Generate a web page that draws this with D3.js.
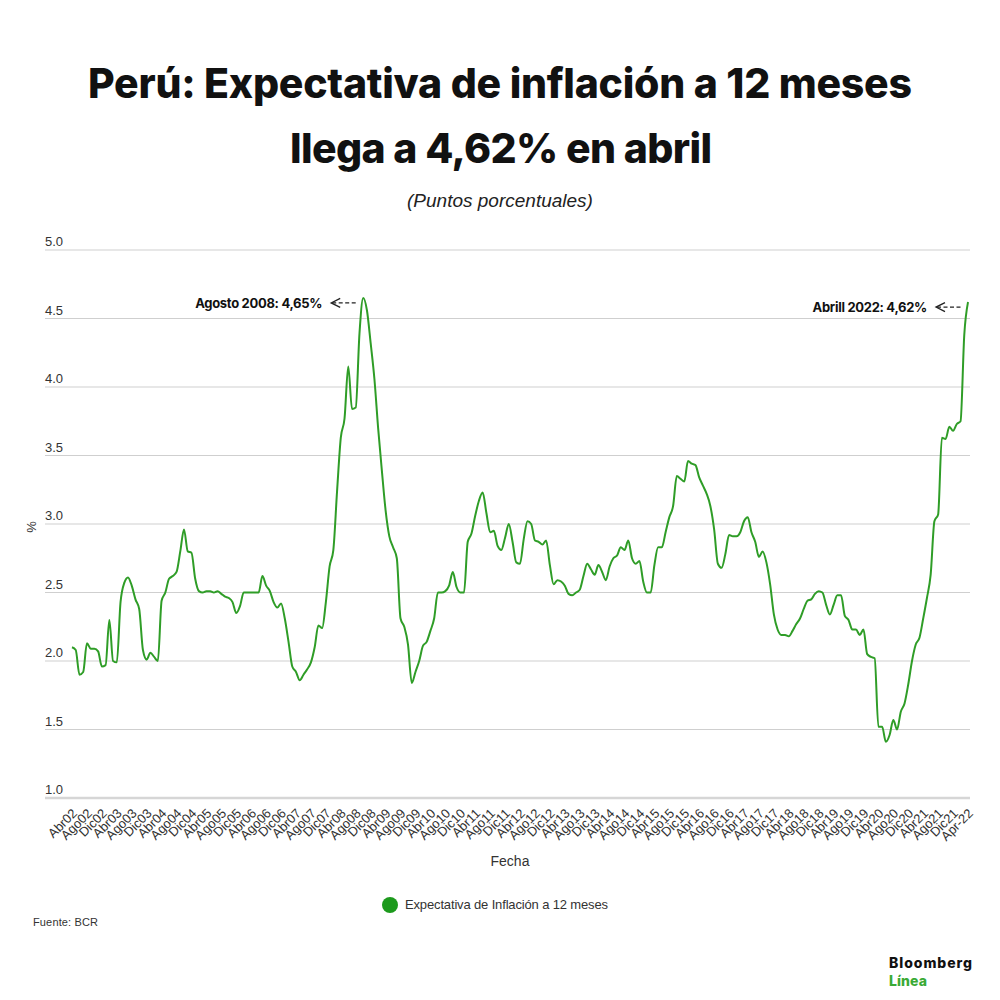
<!DOCTYPE html>
<html>
<head>
<meta charset="utf-8">
<script src="https://cdn.jsdelivr.net/npm/d3@7"></script>
<style>
  body { margin: 0; background: #fff; }
</style>
</head>
<body>
<div id="chart"></div>
<script>
// monthly expectation, Apr 2002 .. Apr 2022
var values = [
  2.10, 2.08, 1.90, 1.92, 2.13, 2.09, 2.09, 2.07, 1.96, 1.97,
  2.30, 2.00, 1.99, 2.43, 2.57, 2.61, 2.55, 2.45, 2.38, 2.08,
  2.01, 2.06, 2.03, 2.00, 2.44, 2.50, 2.60, 2.62, 2.65, 2.80,
  2.96, 2.80, 2.79, 2.60, 2.51, 2.50, 2.51, 2.51, 2.50, 2.51,
  2.49, 2.47, 2.46, 2.43, 2.35, 2.40, 2.50, 2.50, 2.50, 2.50,
  2.50, 2.62, 2.55, 2.51, 2.43, 2.39, 2.42, 2.31, 2.14, 1.96,
  1.92, 1.86, 1.90, 1.94, 1.99, 2.10, 2.26, 2.24, 2.43, 2.69,
  2.81, 3.24, 3.63, 3.77, 4.15, 3.84, 3.85, 4.39, 4.65, 4.56,
  4.32, 4.06, 3.70, 3.39, 3.10, 2.91, 2.83, 2.75, 2.31, 2.25,
  2.12, 1.84, 1.92, 2.00, 2.11, 2.14, 2.22, 2.31, 2.50, 2.50,
  2.51, 2.55, 2.65, 2.54, 2.50, 2.50, 2.87, 2.93, 3.06, 3.17,
  3.23, 3.08, 2.94, 2.95, 2.84, 2.81, 2.90, 3.00, 2.87, 2.72,
  2.71, 2.89, 3.02, 3.00, 2.88, 2.87, 2.85, 2.88, 2.70, 2.56,
  2.59, 2.58, 2.55, 2.49, 2.48, 2.50, 2.52, 2.62, 2.71, 2.67,
  2.63, 2.70, 2.65, 2.59, 2.69, 2.75, 2.77, 2.83, 2.81, 2.88,
  2.75, 2.71, 2.73, 2.58, 2.50, 2.50, 2.70, 2.83, 2.83, 2.94,
  3.05, 3.13, 3.35, 3.33, 3.31, 3.46, 3.44, 3.43, 3.34, 3.28,
  3.22, 3.13, 2.96, 2.71, 2.68, 2.78, 2.92, 2.91, 2.91, 2.94,
  3.02, 3.05, 2.94, 2.87, 2.76, 2.80, 2.72, 2.56, 2.34, 2.23,
  2.19, 2.19, 2.18, 2.22, 2.27, 2.31, 2.38, 2.44, 2.45, 2.49,
  2.51, 2.50, 2.41, 2.34, 2.41, 2.48, 2.48, 2.33, 2.30, 2.23,
  2.23, 2.19, 2.23, 2.05, 2.03, 2.02, 1.52, 1.52, 1.41, 1.46,
  1.57, 1.50, 1.63, 1.69, 1.83, 2.00, 2.12, 2.17, 2.31, 2.46,
  2.63, 3.02, 3.07, 3.63, 3.62, 3.71, 3.68, 3.73, 3.75, 4.38, 4.62
];

// x tick labels: every 4 months
var tickMonths = ['Abr', 'Ago', 'Dic'];
var tickYears = ['02', '03', '04', '05', '06', '07', '08', '09', '10', '11',
  '12', '13', '14', '15', '16', '17', '18', '19', '20', '21'];
var lastTick = 'Apr-22';
var tickLabels = [];
tickYears.forEach(function(y) {
  tickMonths.forEach(function(m) { tickLabels.push(m + y); });
});
tickLabels.push(lastTick);

var yTicks = [1.0, 1.5, 2.0, 2.5, 3.0, 3.5, 4.0, 4.5, 5.0];

var notes = [
  { text: 'Agosto 2008: 4,65%', from: 0, to: 120 },
  { text: 'Abrill 2022: 4,62%', from: 200, to: 241 }
];

var lineColor = '#2f9d27';
var sans = '"Liberation Sans", Arial, sans-serif';
var heavy = 'Inter, "Liberation Sans", sans-serif';
var chart_width = 1000;
var chart_height = 1000;

var svg = d3
  .select('#chart')
  .append('svg')
  .attr('width', chart_width)
  .attr('height', chart_height)
  .style('font-family', sans);

// squeeze / spread letters so a line of text fills a given width
function fitText(sel, target) {
  var n = sel.text().length;
  var w = sel.node().getComputedTextLength();
  sel.style('letter-spacing', ((target - w) / (n - 1)) + 'px');
}

// Title
var t1 = svg.append('text')
  .attr('x', 88).attr('y', 98)
  .style('font-family', heavy).style('font-weight', 800)
  .attr('font-size', 41).attr('fill', '#111')
  .text('Perú: Expectativa de inflación a 12 meses');
fitText(t1, 824);
var t2 = svg.append('text')
  .attr('x', 290).attr('y', 163)
  .style('font-family', heavy).style('font-weight', 800)
  .attr('font-size', 41).attr('fill', '#111')
  .text('llega a 4,62% en abril');
fitText(t2, 422);
svg.append('text')
  .attr('x', 500).attr('y', 207)
  .attr('text-anchor', 'middle')
  .attr('font-size', 19).style('font-style', 'italic')
  .attr('fill', '#222')
  .text('(Puntos porcentuales)');

// Scales
var x_scale = d3.scaleLinear()
  .domain([0, values.length - 1])
  .range([72, 968]);
var y_scale = d3.scaleLinear()
  .domain([1, 5])
  .range([798, 250]);

// Gridlines + y labels
svg.selectAll('line.grid')
  .data(yTicks)
  .enter()
  .append('line')
  .attr('class', 'grid')
  .attr('x1', 45).attr('x2', 970)
  .attr('y1', function(d) { return y_scale(d); })
  .attr('y2', function(d) { return y_scale(d); })
  .attr('stroke', function(d) { return d === 1 ? '#d6d6d6' : '#cfcfcf'; })
  .attr('stroke-width', function(d) { return d === 1 ? 2.5 : 1; });

svg.selectAll('text.ylab')
  .data(yTicks)
  .enter()
  .append('text')
  .attr('class', 'ylab')
  .attr('x', 45)
  .attr('y', function(d) { return y_scale(d) - 4; })
  .attr('font-size', 13).attr('fill', '#333')
  .text(function(d) { return d.toFixed(1); });

svg.append('text')
  .attr('transform', 'translate(36,527) rotate(-90)')
  .attr('text-anchor', 'middle')
  .attr('font-size', 13).attr('fill', '#333')
  .text('%');

// X axis
var x_axis = d3.axisBottom(x_scale)
  .tickValues(d3.range(0, values.length, 4))
  .tickFormat(function(d) { return tickLabels[d / 4]; })
  .tickSize(0);
var gx = svg.append('g')
  .attr('transform', 'translate(0,813)')
  .call(x_axis);
gx.select('.domain').remove();
gx.attr('font-family', null).attr('font-size', null);
gx.selectAll('text')
  .style('font-family', sans)
  .style('font-size', '13px')
  .attr('fill', '#333')
  .attr('x', 3).attr('y', 0).attr('dy', '0.35em')
  .attr('text-anchor', 'end')
  .attr('transform', 'rotate(-45)');

svg.append('text')
  .attr('x', 510).attr('y', 866)
  .attr('text-anchor', 'middle')
  .attr('font-size', 14).attr('fill', '#333')
  .text('Fecha');

// Line
var line = d3.line()
  .x(function(d, i) { return x_scale(i); })
  .y(function(d) { return y_scale(d); })
  .curve(d3.curveMonotoneX);
svg.append('path')
  .datum(values)
  .attr('d', line)
  .attr('fill', 'none')
  .attr('stroke', lineColor)
  .attr('stroke-width', 2);

// Annotations
notes.forEach(function(n) {
  var slice = values.slice(n.from, n.to);
  var i = n.from + d3.maxIndex(slice);
  var px = x_scale(i);
  var py = y_scale(values[i]) + 5;
  svg.append('text')
    .attr('x', px - 41).attr('y', py + 5)
    .attr('text-anchor', 'end')
    .style('font-family', heavy).style('font-weight', 700)
    .attr('font-size', 13).attr('fill', '#111')
    .style('letter-spacing', '-0.3px')
    .text(n.text);
  svg.append('line')
    .attr('x1', px - 31).attr('x2', px - 5)
    .attr('y1', py).attr('y2', py)
    .attr('stroke', '#222').attr('stroke-width', 1.3)
    .attr('stroke-dasharray', '4,2.5');
  svg.append('path')
    .attr('d', 'M' + (px - 23) + ',' + (py - 4.5) + 'L' + (px - 32) + ',' + py + 'L' + (px - 23) + ',' + (py + 4.5))
    .attr('fill', 'none').attr('stroke', '#222').attr('stroke-width', 1.3);
});

// Legend
svg.append('circle')
  .attr('cx', 390).attr('cy', 905).attr('r', 8)
  .attr('fill', '#1d9a1d');
var lg = svg.append('text')
  .attr('x', 405).attr('y', 909)
  .attr('font-size', 13).attr('fill', '#333')
  .text('Expectativa de Inflación a 12 meses');
fitText(lg, 203);

// Source
var src = svg.append('text')
  .attr('x', 33).attr('y', 926)
  .attr('font-size', 11).attr('fill', '#333')
  .text('Fuente: BCR');
fitText(src, 65);

// Logo
var b1 = svg.append('text')
  .attr('x', 889).attr('y', 968)
  .style('font-family', heavy).style('font-weight', 800)
  .attr('font-size', 14).attr('fill', '#111')
  .text('Bloomberg');
fitText(b1, 83);
var b2 = svg.append('text')
  .attr('x', 889).attr('y', 986)
  .style('font-family', heavy).style('font-weight', 800)
  .attr('font-size', 14).attr('fill', '#3aaa35')
  .text('Línea');
fitText(b2, 38);
</script>
</body>
</html>
